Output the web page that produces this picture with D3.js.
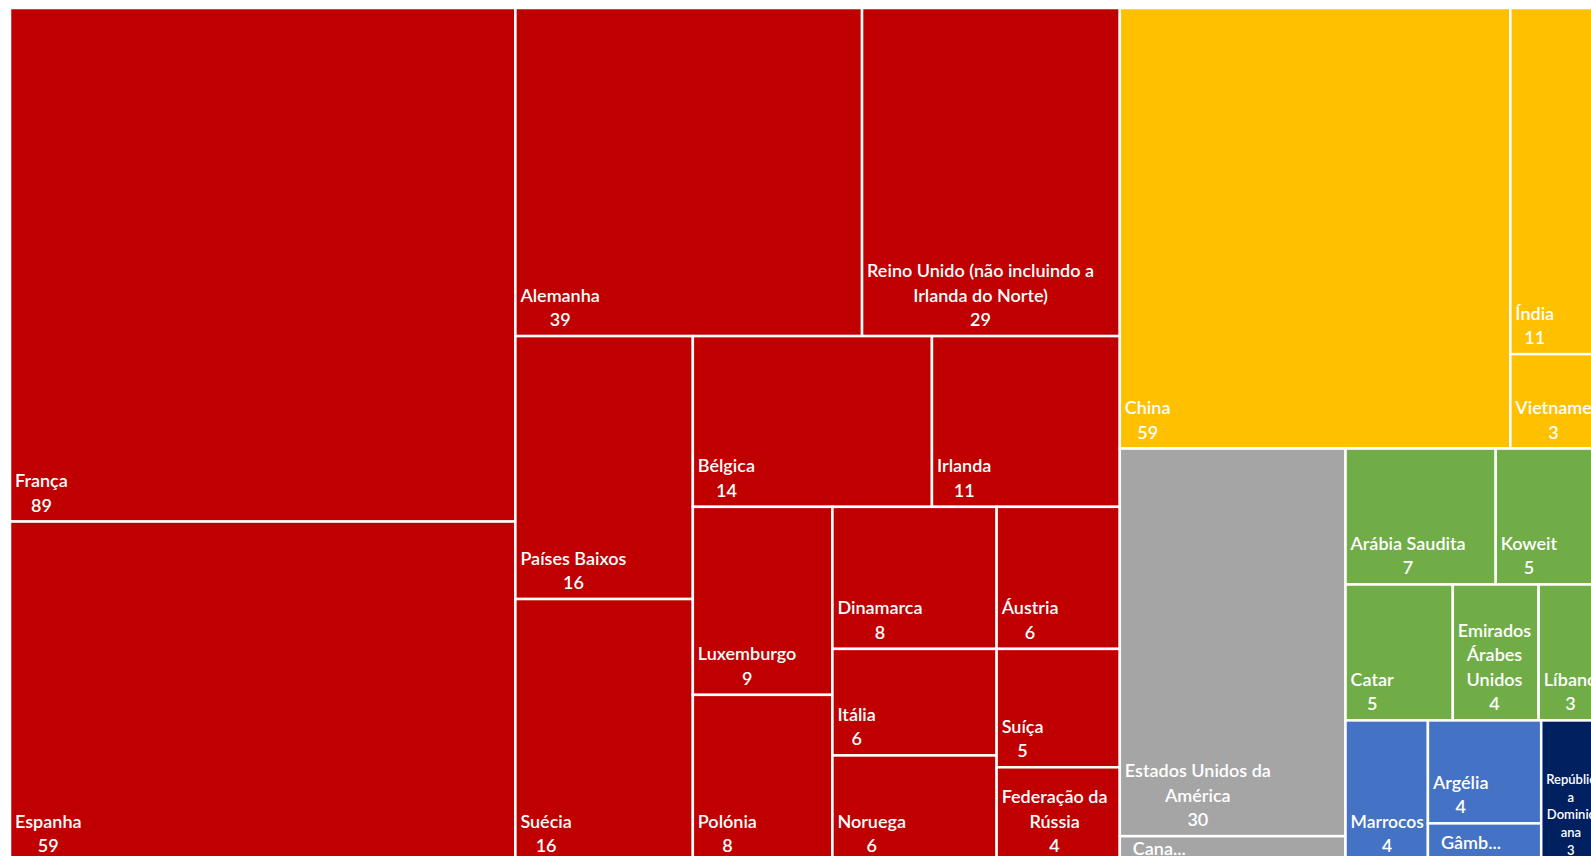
<!DOCTYPE html>
<html lang="pt">
<head>
<meta charset="UTF-8" />
<title>Treemap por país</title>
<script src="https://cdn.jsdelivr.net/npm/d3@7"></script>
<style>
  body { margin: 0; background: #fff; }
  svg { display: block; }
  text { font-family: Lato, "Open Sans", sans-serif; font-weight: 600; fill: #fff; }
</style>
</head>
<body>
<svg id="chart" width="1591" height="856"></svg>
<script>
// regions (groups) and the countries in each one
const regionNames = ["Europa", "Ásia", "América do Norte", "Médio Oriente", "África", "Caraíbas"];
const regionColors = ["#c00000", "#ffc000", "#a5a5a5", "#70ad47", "#4472c4", "#002060"];

const countryNames = [
  "França", "Espanha", "Alemanha", "Reino Unido (não incluindo a Irlanda do Norte)",
  "Países Baixos", "Suécia", "Bélgica", "Irlanda", "Luxemburgo", "Polónia", "Dinamarca",
  "Áustria", "Itália", "Noruega", "Suíça", "Federação da Rússia",
  "China", "Índia", "Vietname",
  "Estados Unidos da América", "Canadá",
  "Arábia Saudita", "Koweit", "Catar", "Emirados Árabes Unidos", "Líbano",
  "Marrocos", "Argélia", "Gâmbia",
  "República Dominicana"
];
const countryValues = [
  89, 59, 39, 29,
  16, 16, 14, 11, 9, 8, 8,
  6, 6, 6, 5, 4,
  59, 11, 3,
  30, 2,
  7, 5, 5, 4, 3,
  4, 4, 1.5,
  3
];
const countryRegions = [
  "Europa", "Europa", "Europa", "Europa",
  "Europa", "Europa", "Europa", "Europa", "Europa", "Europa", "Europa",
  "Europa", "Europa", "Europa", "Europa", "Europa",
  "Ásia", "Ásia", "Ásia",
  "América do Norte", "América do Norte",
  "Médio Oriente", "Médio Oriente", "Médio Oriente", "Médio Oriente", "Médio Oriente",
  "África", "África", "África",
  "Caraíbas"
];

var tree = {
  name: "root",
  children: regionNames.map(function (r) {
    return {
      name: r,
      children: countryNames
        .map(function (n, i) { return { name: n, value: countryValues[i], region: countryRegions[i] }; })
        .filter(function (c) { return c.region == r; })
    };
  })
};

var color = d3.scaleOrdinal().domain(regionNames).range(regionColors);

var root = d3.hierarchy(tree)
  .sum(function (d) { return d.value || 0; })
  .sort(function (a, b) { return b.value - a.value; });

d3.treemap()
  .tile(d3.treemapSquarify.ratio(1))
  .size([1593, 854])(root);

var svg = d3.select("#chart");
var plot = svg.append("g").attr("transform", "translate(10,8)");

var BASE = 18, MIN_FS = 13, LH = 1.36, PAD_B = 10;
var measurer = svg.append("text").attr("visibility", "hidden");
function textWidth(s, fs) {
  measurer.attr("font-size", fs).text(s);
  return measurer.node().getComputedTextLength();
}

// wrap words to wrapW; words wider than breakW are split by characters
function wrapWords(words, wrapW, breakW, fs) {
  var lines = [], line = "";
  words.forEach(function (word) {
    var pieces = [];
    if (textWidth(word, fs) > breakW) {
      var cur = "";
      for (var k = 0; k < word.length; k++) {
        if (cur && textWidth(cur + word[k], fs) > breakW) { pieces.push(cur); cur = ""; }
        cur += word[k];
      }
      pieces.push(cur);
    } else pieces = [word];
    pieces.forEach(function (p) {
      var test = line ? line + " " + p : p;
      if (line && (pieces.length > 1 || textWidth(test, fs) > wrapW)) { lines.push(line); line = p; }
      else line = test;
    });
  });
  if (line) lines.push(line);
  return lines;
}

var leaves = plot.selectAll("g.cell")
  .data(root.leaves())
  .enter()
  .append("g")
  .attr("class", "cell");

leaves.append("clipPath")
  .attr("id", function (d, i) { return "clip" + i; })
  .append("rect")
  .attr("x", function (d) { return d.x0; })
  .attr("y", function (d) { return d.y0; })
  .attr("width", function (d) { return d.x1 - d.x0; })
  .attr("height", function (d) { return d.y1 - d.y0; });

leaves.append("rect")
  .attr("x", function (d) { return d.x0; })
  .attr("y", function (d) { return d.y0; })
  .attr("width", function (d) { return d.x1 - d.x0; })
  .attr("height", function (d) { return d.y1 - d.y0; })
  .style("fill", function (d) { return color(d.data.region); })
  .style("stroke", "#fff")
  .style("stroke-width", 2.5);

leaves.each(function (d, i) {
  var w = d.x1 - d.x0, h = d.y1 - d.y0;
  var wrapW = w - 14, breakW = w - 9;
  var words = d.data.name.split(" ");
  var fs = BASE;
  var longest = d3.max(words, function (wd) { return textWidth(wd, BASE); });
  if (longest > breakW) fs = Math.max(MIN_FS, BASE * breakW / longest);
  var lines = wrapWords(words, wrapW, breakW, fs);
  lines.push(String(d.data.value));
  var lh = fs * LH;

  var t = d3.select(this).append("text")
    .attr("clip-path", "url(#clip" + i + ")")
    .attr("font-size", fs);

  if (lines.length * lh + 4 > h) {
    // not enough room: truncated name, centred vertically
    t.attr("font-size", BASE)
      .attr("x", d.x0 + 13)
      .attr("y", (d.y0 + d.y1) / 2 + 6)
      .text(d.data.name.slice(0, 4) + "...");
    return;
  }

  var blockW = d3.max(lines, function (l) { return textWidth(l, fs); });
  var cx = d.x0 + 5 + blockW / 2;
  var last = d.y1 - PAD_B * fs / BASE;
  t.attr("text-anchor", "middle")
    .selectAll("tspan")
    .data(lines)
    .enter()
    .append("tspan")
    .attr("x", cx)
    .attr("y", function (l, j) { return last - (lines.length - 1 - j) * lh; })
    .text(function (l) { return l; });
});
</script>
</body>
</html>
